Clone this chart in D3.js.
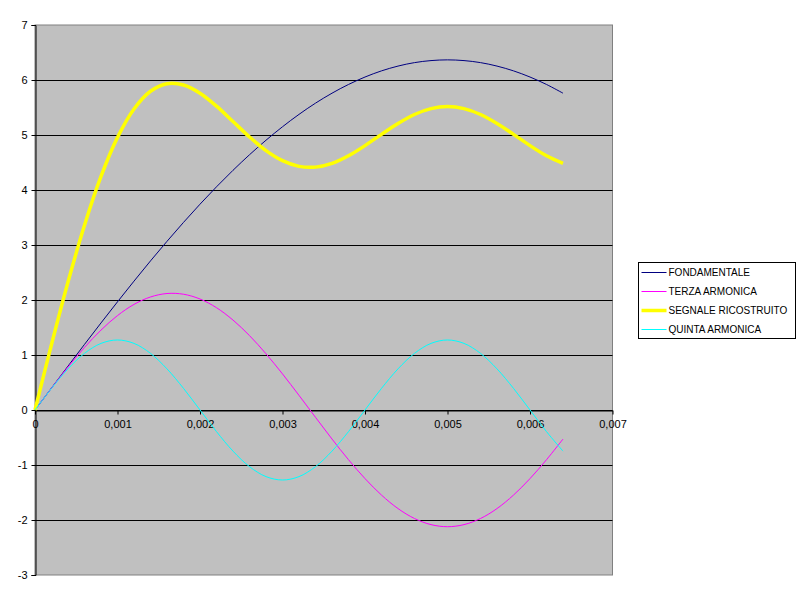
<!DOCTYPE html>
<html>
<head>
<meta charset="utf-8">
<script src="https://cdn.jsdelivr.net/npm/d3@7"></script>
<style>
body{margin:0;background:#fff;}
text{font-family:"Liberation Sans",Arial,sans-serif;}
</style>
</head>
<body>
<div id="chart"></div>
<script>
// tempo (s)
var tempo=[0,0.0002,0.0004,0.0006,0.0008,0.001,0.0012,0.0014,0.0016,0.0018,0.002,
	0.0022,0.0024,0.0026,0.0028,0.003,0.0032,0.0034,0.0036,0.0038,0.004,
	0.0042,0.0044,0.0046,0.0048,0.005,0.0052,0.0054,0.0056,0.0058,0.006,0.0062,0.0064];

var fondamentale=[0,0.400,0.798,1.193,1.583,1.967,2.343,2.711,3.067,3.411,3.742,
	4.058,4.358,4.641,4.905,5.150,5.375,5.579,5.760,5.919,6.054,
	6.166,6.253,6.316,6.353,6.366,6.353,6.316,6.253,6.166,6.054,5.919,5.760];

var terza=[0,0.398,0.781,1.137,1.453,1.717,1.920,2.055,2.118,2.105,2.018,
	1.860,1.635,1.353,1.022,0.656,0.266,-0.133,-0.528,-0.904,-1.247,
	-1.547,-1.792,-1.973,-2.084,-2.122,-2.084,-1.973,-1.792,-1.547,-1.247,-0.904,-0.528];

var segnale=[0,1.191,2.327,3.360,4.247,4.957,5.474,5.796,5.933,5.909,5.760,
	5.525,5.245,4.964,4.716,4.533,4.430,4.416,4.484,4.622,4.807,
	5.012,5.209,5.373,5.480,5.517,5.480,5.373,5.209,5.012,4.807,4.622,4.484];

var quinta=[0,0.393,0.748,1.030,1.211,1.273,1.211,1.030,0.748,0.393,0,
	-0.393,-0.748,-1.030,-1.211,-1.273,-1.211,-1.030,-0.748,-0.393,0,
	0.393,0.748,1.030,1.211,1.273,1.211,1.030,0.748,0.393,0,-0.393,-0.748];

var nomiSerie=["FONDAMENTALE","TERZA ARMONICA","SEGNALE RICOSTRUITO","QUINTA ARMONICA"];
var xTicks=[0,0.001,0.002,0.003,0.004,0.005,0.006,0.007];
var yTicks=[-3,-2,-1,0,1,2,3,4,5,6,7];

var serie=[
	{nome:nomiSerie[0],valori:fondamentale,colore:"#000080",spessore:1},
	{nome:nomiSerie[1],valori:terza,colore:"#ff00ff",spessore:1},
	{nome:nomiSerie[2],valori:segnale,colore:"#ffff00",spessore:3.5},
	{nome:nomiSerie[3],valori:quinta,colore:"#00ffff",spessore:1}
];

var width=800,height=600;
var plot={left:35,top:25,right:612.5,bottom:575};

var svg=d3.select("#chart").append("svg")
	.attr("width",width)
	.attr("height",height);

var x=d3.scaleLinear().domain([0,0.007]).range([plot.left,plot.right]);
var y=d3.scaleLinear().domain([-3,7]).range([plot.bottom,plot.top]);

var it=d3.formatLocale({decimal:",",thousands:".",grouping:[3],currency:["€",""],minus:"-"});
var fx=it.format(".3f");

// sfondo area del grafico
svg.append("rect")
	.attr("x",plot.left)
	.attr("y",plot.top)
	.attr("width",plot.right-plot.left)
	.attr("height",plot.bottom-plot.top)
	.attr("fill","#c0c0c0")
	.attr("stroke","#808080")
	.attr("stroke-width",1);

// griglia orizzontale
svg.append("g")
	.selectAll("line")
	.data(yTicks.filter(d=>d>-3&&d<7))
	.enter().append("line")
	.attr("x1",plot.left)
	.attr("x2",plot.right)
	.attr("y1",d=>Math.round(y(d))+0.5)
	.attr("y2",d=>Math.round(y(d))+0.5)
	.attr("stroke","#000")
	.attr("stroke-width",1);

// asse y
var yAxis=d3.axisLeft(y).tickValues(yTicks).tickSize(4).tickPadding(4).tickFormat(it.format("d"));
var gy=svg.append("g")
	.attr("transform","translate("+(plot.left+0.5)+",0)")
	.call(yAxis);
gy.select(".domain").attr("stroke","#000");
gy.selectAll("text").attr("font-size","11px").attr("fill","#000").style("font-family",'"Liberation Sans",Arial,sans-serif');

// asse x (a quota zero)
var xAxis=d3.axisBottom(x).tickValues(xTicks).tickSize(4).tickPadding(6)
	.tickSizeOuter(0)
	.tickFormat(d=>d===0?"0":fx(d));
var gx=svg.append("g")
	.attr("transform","translate(0,"+(Math.round(y(0))+0.5)+")")
	.call(xAxis);
gx.select(".domain").attr("stroke","#000");
gx.selectAll("text").attr("font-size","11px").attr("fill","#000").style("font-family",'"Liberation Sans",Arial,sans-serif');

// curve
var linea=d3.line()
	.x((d,i)=>x(tempo[i]))
	.y(d=>y(d))
	.curve(d3.curveCatmullRom);

svg.append("g")
	.selectAll("path")
	.data(serie)
	.enter().append("path")
	.attr("d",d=>linea(d.valori))
	.attr("fill","none")
	.attr("stroke",d=>d.colore)
	.attr("stroke-width",d=>d.spessore);

// legenda
var leg=svg.append("g").attr("transform","translate(638.5,262.5)");
leg.append("rect")
	.attr("width",157)
	.attr("height",76)
	.attr("fill","#fff")
	.attr("stroke","#000")
	.attr("stroke-width",1);
var voci=leg.selectAll("g.voce")
	.data(serie)
	.enter().append("g")
	.attr("class","voce")
	.attr("transform",(d,i)=>"translate(0,"+(10+i*19)+")");
voci.append("line")
	.attr("x1",3)
	.attr("x2",28)
	.attr("stroke",d=>d.colore)
	.attr("stroke-width",d=>d.spessore);
voci.append("text")
	.attr("x",30)
	.attr("dy","0.35em")
	.attr("font-size","10px")
	.text(d=>d.nome);
</script>
</body>
</html>
